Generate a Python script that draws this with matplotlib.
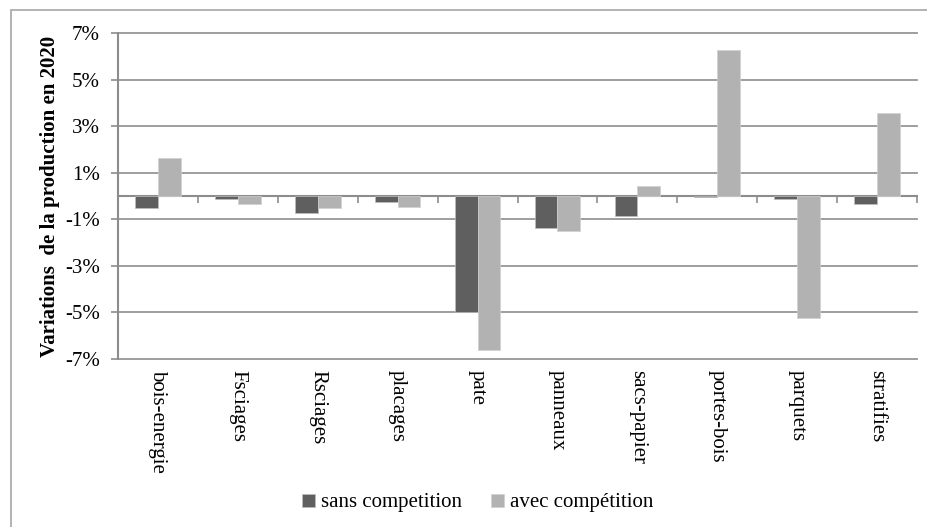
import numpy as np
import matplotlib.pyplot as plt
from matplotlib.patches import Rectangle
from matplotlib.ticker import FixedLocator

categories = ["bois-energie", "Fsciages", "Rsciages", "placages", "pate",
              "panneaux", "sacs-papier", "portes-bois", "parquets", "stratifies"]
sans_competition = [-0.53, -0.15, -0.75, -0.25, -5.0, -1.36, -0.84, -0.05, -0.15, -0.36]
avec_competition = [1.65, -0.35, -0.53, -0.46, -6.63, -1.49, 0.44, 6.28, -5.25, 3.55]
y_ticks = [-7, -5, -3, -1, 1, 3, 5, 7]

plt.rcParams["font.family"] = ["Liberation Serif", "DejaVu Serif"]

fig = plt.figure(figsize=(9.27, 5.27), dpi=100)
fig.patches.append(Rectangle((11 / 927, -0.1), 1.0, 1.1 - 10 / 527, transform=fig.transFigure,
                             fill=False, edgecolor="#a6a6a6", linewidth=1.2))
ax = fig.add_axes([118 / 927, 1 - 359 / 527, 799 / 927, 326 / 527])

x = np.arange(len(categories))
w = 0.285
ax.bar(x - w / 2, sans_competition, w, color="#5f5f5f", edgecolor="#bdbdbd", linewidth=0.5,
       label="sans competition", zorder=3)
ax.bar(x + w / 2, avec_competition, w, color="#b2b2b2", edgecolor="#d0d0d0", linewidth=0.5,
       label="avec compétition", zorder=3)

ax.set_xlim(-0.5, len(categories) - 0.5)
ax.set_ylim(-7, 7)
ax.set_yticks(y_ticks)
ax.set_yticklabels([f"{v}%" for v in y_ticks], fontsize=15)
ax.yaxis.grid(True, color="#969696", linewidth=1.3)
for gl in ax.get_ygridlines():
    gl.set_clip_on(False)
ax.set_axisbelow(True)

for side in ["top", "right"]:
    ax.spines[side].set_visible(False)
ax.spines["left"].set_color("#8c8c8c")
ax.spines["left"].set_linewidth(1.5)
ax.spines["bottom"].set_position(("data", 0))
ax.spines["bottom"].set_color("#8c8c8c")
ax.spines["bottom"].set_linewidth(1.5)
ax.tick_params(axis="y", length=5, color="#8c8c8c", width=1.2, pad=8)

ax.set_xticks([])
ax.xaxis.set_minor_locator(FixedLocator(np.arange(len(categories) + 1) - 0.5))
ax.tick_params(axis="x", which="minor", length=5, color="#8c8c8c", width=1.2, direction="out")

for i, name in enumerate(categories):
    ax.text(i, -0.035, name, transform=ax.get_xaxis_transform(), rotation=-90,
            ha="center", va="top", fontsize=15)

ax.set_ylabel("Variations  de la production en 2020", fontsize=15, fontweight="bold", labelpad=4)

ax.legend(loc="center", bbox_to_anchor=(478 / 927, 1 - 503 / 527), bbox_transform=fig.transFigure,
          ncol=2, frameon=False, fontsize=15, handlelength=0.6, handleheight=0.6,
          handletextpad=0.3, columnspacing=1.4)

fig.savefig("out.png", dpi=100)
